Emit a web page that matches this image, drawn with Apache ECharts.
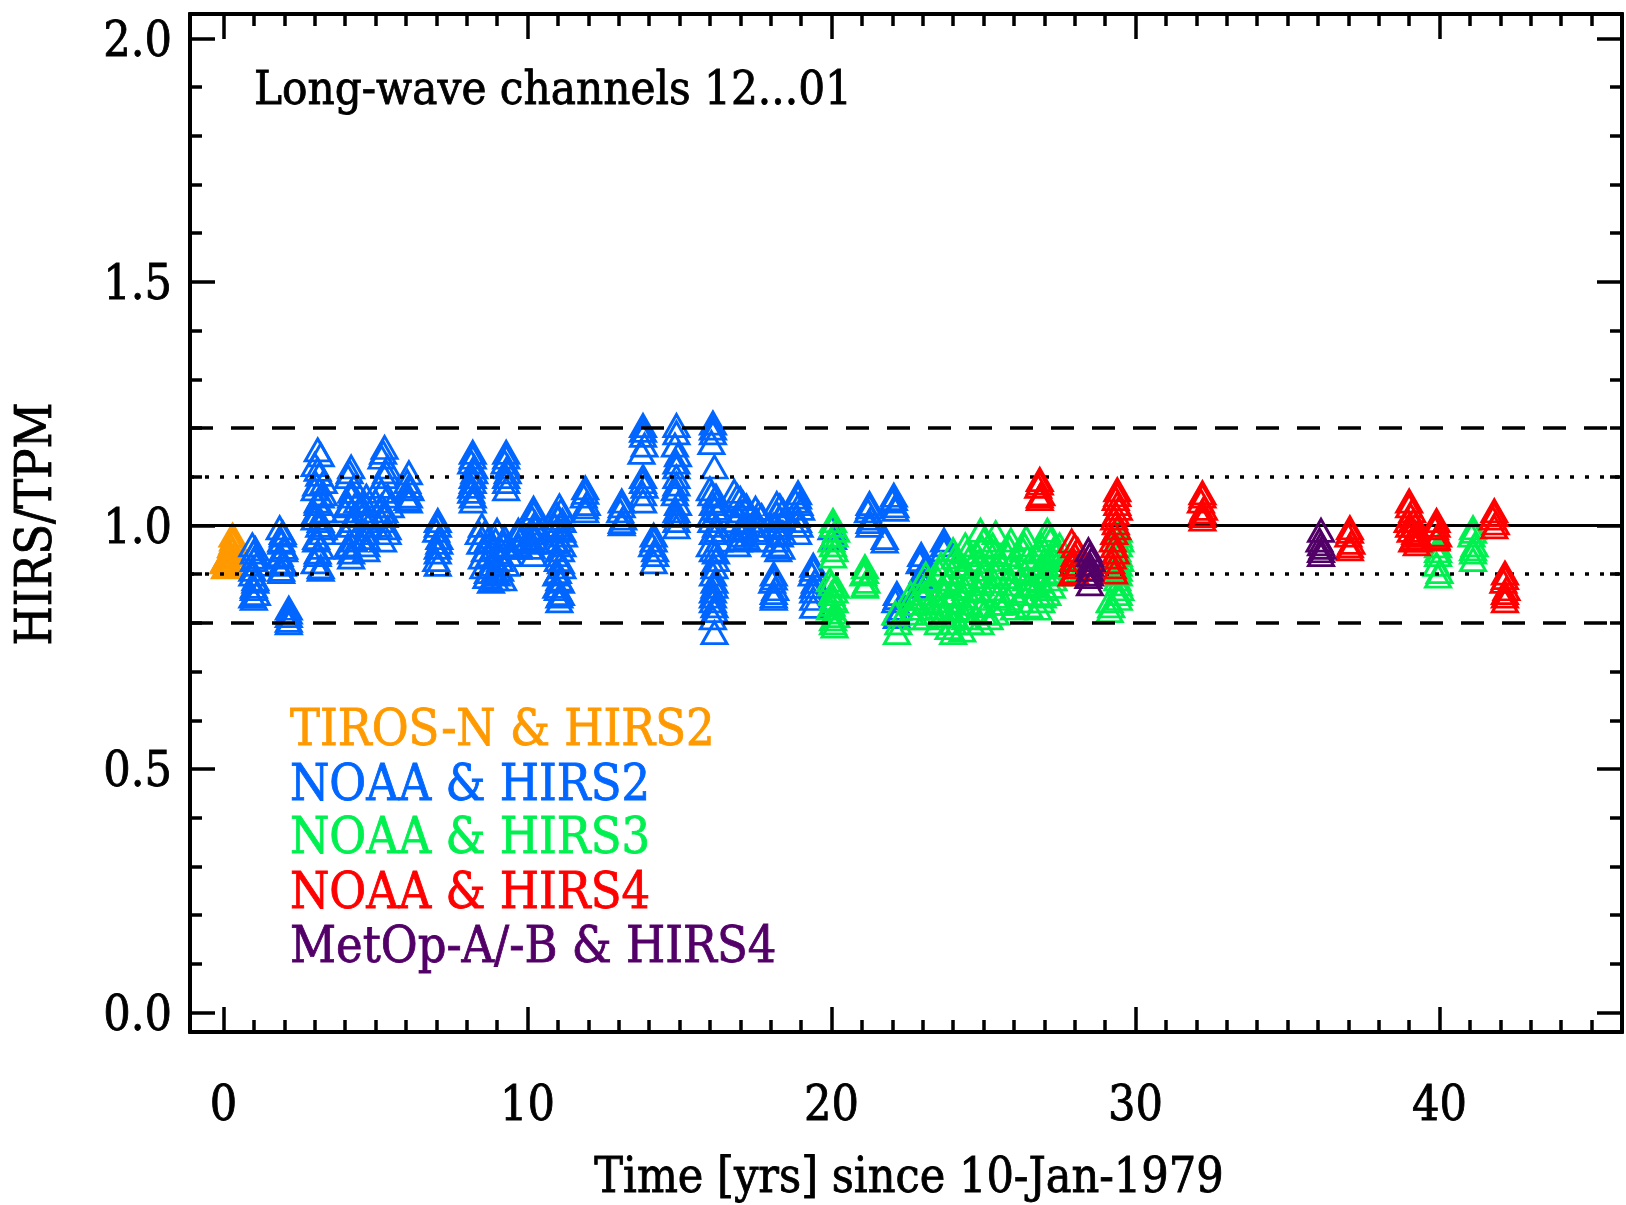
<!DOCTYPE html>
<html>
<head>
<meta charset="utf-8">
<script src="https://cdn.jsdelivr.net/npm/echarts@6/dist/echarts.min.js"></script>
<style>
html,body{margin:0;padding:0;background:#fff;}
#chart{width:1626px;height:1205px;}
</style>
</head>
<body>
<div id="chart"></div>
<script>
// ---------- data ----------
const seriesNames = ['TIROS-N & HIRS2','NOAA & HIRS2','NOAA & HIRS3','NOAA & HIRS4','MetOp-A/-B & HIRS4'];
const seriesColors = ['#FF9900','#0066FF','#00F050','#FF0000','#520068'];

const tirosHirs2 = [[0.3,0.98],[0.32,0.972],[0.3,0.965],[0.25,0.958],[0.28,0.95],[0.35,0.94],[0.2,0.945],[0.1,0.935],[0.15,0.94],[0.0,0.925],[0.05,0.93],[0.2,0.92],[0.05,0.915],[0.3,0.93],[0.12,0.918]];

const noaaHirs2 = [
[0.95,0.96],[1.05,0.952],[1.0,0.945],[1.05,0.935],[1.0,0.93],[1.1,0.92],[0.95,0.91],[0.95,0.9],[1.05,0.89],[1.05,0.885],[1.0,0.875],[1.0,0.87],[1.1,0.86],[0.95,0.855],[1.0,0.85],
[1.85,0.995],[1.95,0.985],[1.95,0.98],[1.9,0.97],[1.9,0.965],[2.0,0.955],[2.0,0.95],[1.85,0.94],[1.85,0.935],[1.95,0.925],[1.95,0.92],[1.9,0.91],[1.9,0.905],
[2.15,0.83],[2.15,0.822],[2.15,0.815],[2.15,0.805],[2.15,0.80],
[3.1,1.155],[3.2,1.145],[3.0,1.125],[3.1,1.115],[3.15,1.105],[3.3,1.09],[3.05,1.085],[3.0,1.075],[3.2,1.06],[3.1,1.05],[3.1,1.045],[3.3,1.03],[3.0,1.025],[3.0,1.015],[3.2,1.01],[3.15,1.0],[3.25,0.985],[3.05,0.975],[3.05,0.97],[3.2,0.955],[3.1,0.945],[3.1,0.94],[3.0,0.925],[3.2,0.915],[3.2,0.91],[3.3,1.065],[3.3,0.995],
[4.2,1.12],[4.15,1.11],[4.1,1.1],[4.3,1.08],[4.2,1.07],[4.2,1.06],[4.1,1.045],[4.1,1.04],[4.3,1.02],[4.25,1.01],[4.2,1.0],[4.0,0.985],[4.3,0.97],[4.1,0.96],[4.1,0.955],[4.2,0.945],[4.2,0.935],[4.0,1.03],[4.4,1.05],
[4.7,1.06],[4.65,1.045],[4.65,1.03],[4.75,1.015],[4.75,1.0],[4.7,0.985],[4.7,0.975],[4.7,0.96],[4.7,0.95],
[5.3,1.16],[5.25,1.15],[5.2,1.14],[5.4,1.12],[5.35,1.11],[5.3,1.1],[5.1,1.08],[5.2,1.07],[5.4,1.06],[5.2,1.04],[5.3,1.03],[5.3,1.02],[5.1,1.0],[5.2,1.01],[5.4,0.985],[5.4,0.995],[5.25,0.97],[5.0,1.05],[5.5,1.04],
[6.1,1.108],[6.05,1.09],[6.1,1.08],[6.15,1.075],[6.1,1.06],[6.05,1.055],[6.1,1.05],
[7.05,1.01],[7.05,1.0],[7.0,0.99],[7.1,0.975],[7.1,0.965],[7.05,0.955],[7.05,0.945],[7.0,0.93],[7.05,0.92],
[8.2,1.15],[8.2,1.14],[8.15,1.13],[8.25,1.12],[8.25,1.11],[8.2,1.1],[8.2,1.09],[8.15,1.08],[8.15,1.07],[8.2,1.06],[8.2,1.05],
[8.5,1.0],[8.4,0.985],[8.7,0.97],[9.0,0.99],[8.6,0.95],[8.9,0.955],[9.2,0.96],[8.5,0.935],[8.8,0.92],[9.1,0.93],[9.4,0.94],[8.7,0.905],[9.0,0.9],[9.2,0.89],[8.8,0.885],
[8.45,0.965],[8.6,0.985],[8.75,0.94],[8.95,0.97],[9.05,0.945],[9.25,0.975],[9.35,0.955],[8.55,0.915],[8.9,0.905],[9.1,0.91],[9.3,0.92],[8.65,0.895],[8.95,0.89],
[9.3,1.15],[9.3,1.14],[9.25,1.13],[9.35,1.12],[9.35,1.11],[9.3,1.1],[9.3,1.09],[9.3,1.075],
[9.7,0.99],[9.7,0.98],[9.75,0.97],[9.7,0.96],[9.7,0.955],
[10.2,1.035],[10.2,1.025],[10.15,1.015],[10.25,1.005],[10.25,0.995],[10.2,0.985],[10.2,0.975],[10.15,0.965],[10.15,0.955],[10.2,0.94],[10.0,0.97],[10.4,0.99],
[11.05,1.04],[10.95,1.025],[11.15,1.01],[11.0,0.995],[11.2,0.98],[10.9,0.965],[11.1,0.95],[11.0,0.93],[11.15,0.915],[10.95,0.9],[11.1,0.885],[11.0,0.87],[11.05,0.855],[11.05,0.845],
[11.1,1.03],[11.0,1.015],[10.9,1.0],[11.15,0.99],[11.05,0.97],[11.15,0.96],[10.95,0.94],[11.1,0.925],[11.0,0.905],[11.05,0.89],[10.95,0.875],[11.1,0.86],
[11.9,1.077],[11.9,1.068],[11.85,1.06],[11.95,1.045],[11.9,1.038],[11.9,1.03],
[13.1,1.05],[13.1,1.04],[13.05,1.03],[13.15,1.015],[13.1,1.008],[13.1,1.003],
[13.8,1.205],[13.8,1.195],[13.8,1.185],[13.85,1.165],[13.75,1.15],[13.8,1.1],[13.8,1.09],[13.85,1.08],[13.8,1.065],[13.8,1.05],
[14.15,0.98],[14.15,0.97],[14.1,0.96],[14.2,0.95],[14.2,0.94],[14.15,0.925],
[14.9,1.205],[14.9,1.19],[14.85,1.165],[14.95,1.145],[14.9,1.13],[14.9,1.12],[14.9,1.1],[14.9,1.085],[14.85,1.075],[14.85,1.065],[14.95,1.045],[14.9,1.03],[14.9,1.02],[14.9,1.01],[14.9,0.997],
[16.1,1.21],[16.1,1.19],[16.05,1.17],[16.15,1.12],[16.0,1.075],[16.2,1.06],[16.1,1.045],[16.3,1.03],[16.0,1.02],[16.2,1.0],[16.1,0.985],[16.3,0.97],[16.1,0.95],[16.2,0.93],[16.1,0.9],[16.15,0.875],[16.1,0.855],[16.15,0.835],[16.1,0.81],[16.15,0.78],
[16.1,1.2],[16.05,1.065],[16.25,1.05],[16.15,1.035],[16.05,1.01],[16.25,0.99],[16.0,0.96],[16.2,0.945],[16.15,0.915],[16.15,0.885],[16.1,0.865],[16.1,0.845],[16.15,0.825],
[16.8,1.07],[17.0,1.055],[17.2,1.04],[16.9,1.02],[17.1,1.005],[17.0,0.99],[17.2,0.975],[16.9,0.96],
[16.9,1.06],[17.1,1.045],[17.0,1.03],[16.85,1.01],[17.15,0.995],[17.05,0.98],[16.95,0.97],
[17.5,1.035],[17.7,1.02],[17.6,1.0],[17.5,0.985],[17.7,0.97],[17.6,1.025],[17.55,1.01],[17.65,0.99],
[18.2,1.045],[18.4,1.03],[18.3,1.015],[18.1,1.0],[18.4,0.985],[18.2,0.97],[18.35,0.955],[18.25,0.95],
[18.3,1.04],[18.2,1.025],[18.4,1.01],[18.25,0.995],[18.3,0.98],[18.15,0.96],
[18.1,0.9],[18.1,0.892],[18.05,0.885],[18.15,0.87],[18.1,0.862],[18.1,0.855],[18.1,0.85],
[18.9,1.067],[18.8,1.05],[19.0,1.035],[18.85,1.02],[18.95,1.0],[18.9,0.985],[18.9,1.058],[18.95,1.045],[18.9,1.01],
[19.4,0.918],[19.4,0.91],[19.35,0.9],[19.45,0.885],[19.4,0.875],[19.4,0.865],[19.4,0.85],[19.4,0.834],
[20.0,0.995],[20.05,0.975],
[21.25,1.045],[21.25,1.038],[21.2,1.03],[21.3,1.015],[21.25,1.008],[21.25,1.0],
[22.05,1.062],[22.05,1.055],[22.0,1.05],[22.1,1.04],[22.1,1.033],
[21.75,0.975],[21.75,0.968],
[22.15,0.86],[22.15,0.852],[22.1,0.845],[22.2,0.83],[22.15,0.82],[22.15,0.813],
[22.95,0.94],[22.95,0.93],[22.9,0.925],[23.0,0.905],[22.95,0.895],[22.95,0.89],[22.95,0.875],
[23.7,0.97],[23.7,0.96],[23.7,0.95]
];

const noaaHirs3 = [
[20.05,1.01],[20.15,0.99],[20.0,0.97],[20.1,0.95],[20.05,0.937],[19.95,0.888],[20.15,0.875],[20.0,0.86],[20.1,0.845],[19.95,0.83],[20.15,0.815],[20.05,0.8],[20.1,0.793],
[20.05,1.0],[20.1,0.98],[20.05,0.96],[20.0,0.88],[20.1,0.865],[20.05,0.85],[20.0,0.838],[20.1,0.822],[20.05,0.808],
[21.1,0.915],[21.1,0.905],[21.05,0.9],[21.15,0.885],[21.1,0.878],[21.1,0.875],
[22.1,0.82],[22.2,0.8],[22.15,0.78],
[22.6,0.86],[22.7,0.84],[22.6,0.82],[22.8,0.81],[22.65,0.85],[22.75,0.83],
[23.1,0.9],[23.2,0.87],[23.0,0.85],[23.3,0.83],[23.1,0.81],[23.15,0.885],[23.05,0.86],[23.25,0.84],[23.2,0.82],
[23.6,0.92],[23.5,0.89],[23.7,0.86],[23.6,0.83],[23.5,0.8],[23.55,0.905],[23.65,0.875],[23.55,0.845],[23.65,0.815],
[24.0,0.95],[24.1,0.92],[23.9,0.89],[24.0,0.86],[24.1,0.83],[24.0,0.8],[24.0,0.78],[24.05,0.935],[23.95,0.905],[24.05,0.875],[23.95,0.845],[24.05,0.815],[23.85,0.79],
[24.4,0.96],[24.5,0.93],[24.3,0.9],[24.4,0.87],[24.5,0.84],[24.4,0.81],[24.3,0.785],[24.45,0.945],[24.35,0.915],[24.45,0.885],[24.35,0.855],[24.45,0.825],[24.6,0.8],
[24.9,0.99],[25.0,0.97],[24.8,0.94],[25.0,0.91],[24.9,0.88],[24.8,0.85],[25.0,0.82],[24.9,0.8],[24.95,0.955],[24.85,0.925],[24.95,0.895],[24.85,0.865],[24.95,0.835],
[25.4,0.985],[25.3,0.96],[25.5,0.93],[25.4,0.9],[25.3,0.87],[25.5,0.84],[25.4,0.82],[25.35,0.945],[25.45,0.915],[25.35,0.885],[25.45,0.855],[25.2,0.81],
[25.9,0.97],[25.8,0.94],[26.0,0.91],[25.9,0.88],[25.8,0.85],[26.0,0.83],[25.85,0.955],[25.95,0.925],[25.85,0.895],[25.95,0.865],[25.7,0.84],
[26.4,0.975],[26.3,0.95],[26.5,0.92],[26.4,0.89],[26.3,0.86],[26.5,0.835],[26.35,0.96],[26.45,0.935],[26.35,0.905],[26.45,0.875],[26.2,0.845],
[26.9,0.96],[27.0,0.93],[26.8,0.9],[27.0,0.87],[26.9,0.845],[26.8,0.83],[26.85,0.945],[26.95,0.915],[26.85,0.885],[26.95,0.855],[26.65,0.88],
[27.1,0.99],[27.2,0.97],[27.3,0.95],[27.2,0.92],[27.3,0.89],[27.1,0.86],[27.15,0.98],[27.25,0.935],[27.15,0.905],[27.25,0.875],
[27.5,0.96],[27.5,0.93],[27.45,0.9],[27.45,0.945],[27.5,0.915],
[28.3,0.93],[28.3,0.92],[28.3,0.91],
[29.15,0.845],[29.2,0.835],[29.15,0.825],
[29.45,0.99],[29.5,0.97],[29.4,0.95],[29.5,0.93],[29.45,0.91],[29.4,0.89],[29.5,0.87],[29.45,0.85],
[29.45,0.98],[29.45,0.96],[29.45,0.94],[29.45,0.92],[29.45,0.9],[29.45,0.88],[29.45,0.86],
[39.95,0.958],[39.95,0.948],[39.95,0.94],[39.9,0.92],[40.0,0.905],[39.95,0.896],
[41.1,0.995],[41.1,0.988],[41.05,0.98],[41.15,0.96],[41.1,0.952],[41.1,0.945],[41.1,0.93]
];

const noaaHirs4 = [
[26.85,1.094],[26.85,1.087],[26.8,1.08],[26.9,1.065],[26.85,1.06],[26.85,1.055],
[27.9,0.968],[28.1,0.95],[27.95,0.93],[28.05,0.915],[27.9,0.9],[28.0,0.958],[28.0,0.94],[27.95,0.92],[28.0,0.905],
[29.4,1.073],[29.35,1.055],[29.45,1.035],[29.3,1.015],[29.4,0.995],[29.25,0.97],[29.35,0.945],[29.2,0.925],[29.3,0.904],
[29.4,1.063],[29.4,1.045],[29.35,1.025],[29.35,1.005],[29.3,0.985],[29.3,0.958],[29.25,0.935],[29.25,0.915],
[32.2,1.067],[32.2,1.06],[32.15,1.05],[32.25,1.035],[32.2,1.028],[32.2,1.02],[32.2,1.013],
[37.05,0.995],[37.05,0.988],[37.0,0.98],[37.1,0.965],[37.05,0.958],[37.05,0.952],
[39.0,1.05],[39.1,1.03],[38.95,1.01],[39.2,1.0],[39.05,0.99],[39.3,0.98],[39.1,0.97],[39.25,0.962],
[39.0,1.04],[39.05,1.02],[39.15,1.01],[39.0,1.0],[39.2,0.985],[39.15,0.975],[39.3,0.97],
[39.9,1.01],[39.9,1.0],[39.85,0.995],[39.95,0.98],[39.9,0.975],[39.9,0.972],
[41.8,1.03],[41.8,1.022],[41.75,1.015],[41.85,1.005],[41.8,0.997],
[42.15,0.902],[42.15,0.893],[42.1,0.885],[42.2,0.87],[42.15,0.862],[42.15,0.855],[42.15,0.845]
];

const metopHirs4 = [
[28.45,0.95],[28.55,0.93],[28.5,0.91],[28.45,0.895],[28.5,0.88],[28.5,0.94],[28.5,0.92],[28.5,0.9],
[36.1,0.99],[36.05,0.97],[36.15,0.955],[36.1,0.94],[36.1,0.962],[36.1,0.948]
];

const refSolid = [1.0];
const refDotted = [0.9, 1.1];
const refDashed = [0.8, 1.2];

const xMajorTicks = [0, 10, 20, 30, 40];
const xMinorTicks = [0,1,2,3,4,5,6,7,8,9,10,11,12,13,14,15,16,17,18,19,20,21,22,23,24,25,26,27,28,29,30,31,32,33,34,35,36,37,38,39,40,41,42,43,44,45];
const yMajorTicks = [0.0, 0.5, 1.0, 1.5, 2.0];
const yMinorTicks = [0.0,0.1,0.2,0.3,0.4,0.5,0.6,0.7,0.8,0.9,1.0,1.1,1.2,1.3,1.4,1.5,1.6,1.7,1.8,1.9,2.0];

const titleText = 'Long-wave channels 12...01';
const xAxisTitle = 'Time [yrs] since 10-Jan-1979';
const yAxisTitle = 'HIRS/TPM';

// ---------- chart ----------
const FONT = "'DejaVu Serif Condensed', 'Liberation Serif', serif";
const X_MIN = -1.1, X_MAX = 46.0, Y_MIN = -0.04, Y_MAX = 2.05;

function xAx(pos, ticks, len, labels) {
  return {
    type: 'value', position: pos, min: X_MIN, max: X_MAX,
    splitLine: {show: false},
    axisLine: {show: true, onZero: false, lineStyle: {color: '#000', width: 4}},
    axisTick: {show: true, inside: true, length: len, customValues: ticks, lineStyle: {color: '#000', width: 3.5}},
    axisLabel: labels ? {show: true, customValues: xMajorTicks, fontSize: 48, fontFamily: FONT, color: '#000', margin: 52,
      textBorderColor: '#000', textBorderWidth: 0.8} : {show: false}
  };
}
function yAx(pos, ticks, len, labels) {
  return {
    type: 'value', position: pos, min: Y_MIN, max: Y_MAX,
    splitLine: {show: false},
    axisLine: {show: true, onZero: false, lineStyle: {color: '#000', width: 4}},
    axisTick: {show: true, inside: true, length: len, customValues: ticks, lineStyle: {color: '#000', width: 3.5}},
    axisLabel: labels ? {show: true, customValues: yMajorTicks, fontSize: 48, fontFamily: FONT, color: '#000', margin: 18,
      verticalAlign: 'top', lineHeight: 10, textBorderColor: '#000', textBorderWidth: 0.8,
      formatter: v => v.toFixed(1)} : {show: false}
  };
}

const dataSets = [tirosHirs2, noaaHirs2, noaaHirs3, noaaHirs4, metopHirs4];
const series = dataSets.map((d, i) => ({
  name: seriesNames[i], type: 'scatter', data: d,
  xAxisIndex: 0, yAxisIndex: 0,
  symbol: 'triangle', symbolSize: [25, 22],
  itemStyle: {color: 'rgba(0,0,0,0)', borderColor: seriesColors[i], borderWidth: 2.9, opacity: 1},
  emphasis: {disabled: true},
  z: 2 + i
}));

const refLines = [];
refSolid.forEach(v => refLines.push({yAxis: v, lineStyle: {type: 'solid', width: 3, color: '#000'}}));
refDotted.forEach(v => refLines.push({yAxis: v, lineStyle: {type: [4, 11], width: 3.5, color: '#000'}}));
refDashed.forEach(v => refLines.push({yAxis: v, lineStyle: {type: [23, 18], width: 3.5, color: '#000'}}));
series.push({
  type: 'scatter', data: [], xAxisIndex: 0, yAxisIndex: 0, z: 20,
  markLine: {silent: true, symbol: ['none', 'none'], label: {show: false}, animation: false, data: refLines}
});

function txt(x, y, s, color, size, align, rot) {
  const g = {type: 'text', x: x, y: y, z: 100,
    style: {text: s, fontSize: size, fontFamily: FONT, fill: color, stroke: color, lineWidth: 0.8, align: align, verticalAlign: 'middle'}};
  if (rot) g.rotation = rot;
  return g;
}
const graphics = [
  txt(254, 92, titleText, '#000', 47, 'left'),
  txt(909, 1180, xAxisTitle, '#000', 48, 'center'),
  txt(38, 524, yAxisTitle, '#000', 50, 'center', Math.PI / 2)
];
const legendY = [732, 787, 840, 895, 949];
seriesNames.forEach((n, i) => graphics.push(txt(290, legendY[i], n, seriesColors[i], 50, 'left')));

const chart = echarts.init(document.getElementById('chart'), null, {renderer: 'canvas'});
chart.setOption({
  animation: false,
  backgroundColor: '#fff',
  grid: {left: 190, right: 4, top: 14, bottom: 173, containLabel: false},
  xAxis: [
    xAx('bottom', xMajorTicks, 25, true),
    xAx('bottom', xMinorTicks, 12, false),
    xAx('top', xMajorTicks, 25, false),
    xAx('top', xMinorTicks, 12, false)
  ],
  yAxis: [
    yAx('left', yMajorTicks, 25, true),
    yAx('left', yMinorTicks, 12, false),
    yAx('right', yMajorTicks, 25, false),
    yAx('right', yMinorTicks, 12, false)
  ],
  series: series,
  graphic: graphics
});
</script>
</body>
</html>
